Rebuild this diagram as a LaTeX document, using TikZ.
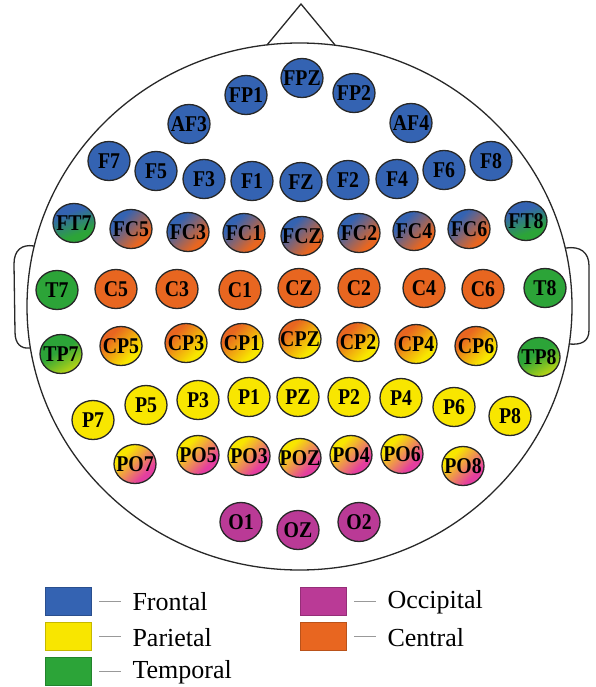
\documentclass[tikz,border=0pt]{standalone}
\usepackage{fontspec}
\setmainfont{Liberation Serif}
\newfontfamily\elfontfam{Liberation Serif}[FakeStretch=0.88]
\usetikzlibrary{shapes.geometric}
\definecolor{cBlue}{RGB}{52,99,178}
\definecolor{cOrange}{RGB}{232,102,32}
\definecolor{cYellow}{RGB}{248,230,0}
\definecolor{cGreen}{RGB}{44,164,56}
\definecolor{cYG}{RGB}{190,215,20}
\definecolor{cMag}{RGB}{186,58,150}
\definecolor{cPink}{RGB}{228,62,160}
\definecolor{cLine}{RGB}{40,40,40}
\pgfdeclareverticalshading{fcsh}{100bp}{color(0bp)=(cOrange); color(32bp)=(cOrange); color(68bp)=(cBlue); color(100bp)=(cBlue)}
\pgfdeclareverticalshading{ftsh}{100bp}{color(0bp)=(cGreen); color(35bp)=(cGreen); color(65bp)=(cBlue); color(100bp)=(cBlue)}
\pgfdeclareverticalshading{cpsh}{100bp}{color(0bp)=(cYellow); color(32bp)=(cYellow); color(68bp)=(cOrange); color(100bp)=(cOrange)}
\pgfdeclareverticalshading{tpsh}{100bp}{color(0bp)=(cYG); color(25bp)=(cYG); color(55bp)=(cGreen); color(100bp)=(cGreen)}
\pgfdeclareverticalshading{posh}{100bp}{color(0bp)=(cPink); color(32bp)=(cPink); color(68bp)=(cYellow); color(100bp)=(cYellow)}
\newcommand\elab[1]{\makebox[0pt]{\raisebox{-0.34em}[0pt][0pt]{#1}}}
\tikzset{
 elec/.style={ellipse, draw=cLine, line width=1.3pt, minimum width=42pt, minimum height=39pt, inner sep=0pt,
   font={\elfontfam\bfseries\fontsize{22.5}{22.5}\selectfont}},
 fr/.style={elec, fill=cBlue},
 ce/.style={elec, fill=cOrange},
 pa/.style={elec, fill=cYellow},
 te/.style={elec, fill=cGreen},
 oc/.style={elec, fill=cMag},
 fcx/.style={elec, shade, shading=fcsh, shading angle=45},
 ftx/.style={elec, shade, shading=ftsh, shading angle=20},
 cpx/.style={elec, shade, shading=cpsh, shading angle=45},
 tpx/.style={elec, shade, shading=tpsh, shading angle=30},
 pox/.style={elec, shade, shading=posh, shading angle=45},
 headline/.style={draw=cLine, line width=1.3pt},
 legbox/.style={minimum width=46pt, minimum height=28pt, inner sep=0pt, draw=#1!80!black, line width=0.6pt, fill=#1},
 legdash/.style={draw=black!40, line width=1pt},
 legtext/.style={anchor=west, inner sep=0pt, font=\fontsize{26}{26}\selectfont},
}
\begin{document}
\begin{tikzpicture}[x=1pt,y=-1pt]
\useasboundingbox (0,0) rectangle (595,687);
% head
\draw[headline] (299.5,306.5) ellipse [x radius=272.5, y radius=263.5];
\draw[headline, line join=miter] (267,45) -- (301,4) -- (335,45);
\draw[headline] (34,246) .. controls (22,244) and (14,250) .. (14,264) -- (15,332) .. controls (15,344) and (21,349) .. (30,348);
\draw[headline] (566,248) .. controls (580,246) and (589,252) .. (589,266) -- (589,330) .. controls (589,342) and (581,345) .. (569,344);
% frontal
\node[fr] (FP1) at (246,95) {\elab{FP1}};
\node[fr] (FPZ) at (302,78) {\elab{FPZ}};
\node[fr] (FP2) at (354,93) {\elab{FP2}};
\node[fr] (AF3) at (189,124) {\elab{AF3}};
\node[fr] (AF4) at (411,123) {\elab{AF4}};
\node[fr] (F7) at (109,161) {\elab{F7}};
\node[fr] (F5) at (156,171) {\elab{F5}};
\node[fr] (F3) at (204,179) {\elab{F3}};
\node[fr] (F1) at (252,181) {\elab{F1}};
\node[fr] (FZ) at (301,182) {\elab{FZ}};
\node[fr] (F2) at (348,180) {\elab{F2}};
\node[fr] (F4) at (397,179) {\elab{F4}};
\node[fr] (F6) at (444,170) {\elab{F6}};
\node[fr] (F8) at (491,161) {\elab{F8}};
% fronto-central
\node[ftx] (FT7) at (74,223) {\elab{FT7}};
\node[fcx] (FC5) at (131,229) {\elab{FC5}};
\node[fcx] (FC3) at (188,232) {\elab{FC3}};
\node[fcx] (FC1) at (244,233) {\elab{FC1}};
\node[fcx] (FCZ) at (302,236) {\elab{FCZ}};
\node[fcx] (FC2) at (359,233) {\elab{FC2}};
\node[fcx] (FC4) at (414,231) {\elab{FC4}};
\node[fcx] (FC6) at (469,229) {\elab{FC6}};
\node[ftx] (FT8) at (526,221) {\elab{FT8}};
% central
\node[te] (T7) at (57,290) {\elab{T7}};
\node[ce] (C5) at (116,289) {\elab{C5}};
\node[ce] (C3) at (177,289) {\elab{C3}};
\node[ce] (C1) at (240,290) {\elab{C1}};
\node[ce] (CZ) at (299,288) {\elab{CZ}};
\node[ce] (C2) at (359,288) {\elab{C2}};
\node[ce] (C4) at (424,288) {\elab{C4}};
\node[ce] (C6) at (483,289) {\elab{C6}};
\node[te] (T8) at (545,288) {\elab{T8}};
% centro-parietal
\node[tpx] (TP7) at (61,354) {\elab{TP7}};
\node[cpx] (CP5) at (121,346) {\elab{CP5}};
\node[cpx] (CP3) at (186,343) {\elab{CP3}};
\node[cpx] (CP1) at (242,343) {\elab{CP1}};
\node[cpx] (CPZ) at (300,339) {\elab{CPZ}};
\node[cpx] (CP2) at (358,342) {\elab{CP2}};
\node[cpx] (CP4) at (416,344) {\elab{CP4}};
\node[cpx] (CP6) at (476,346) {\elab{CP6}};
\node[tpx] (TP8) at (539,357) {\elab{TP8}};
% parietal
\node[pa] (P7) at (93,420) {\elab{P7}};
\node[pa] (P5) at (146,405) {\elab{P5}};
\node[pa] (P3) at (198,400) {\elab{P3}};
\node[pa] (P1) at (249,397) {\elab{P1}};
\node[pa] (PZ) at (298,397) {\elab{PZ}};
\node[pa] (P2) at (349,397) {\elab{P2}};
\node[pa] (P4) at (401,398) {\elab{P4}};
\node[pa] (P6) at (454,407) {\elab{P6}};
\node[pa] (P8) at (510,416) {\elab{P8}};
% parieto-occipital
\node[pox] (PO7) at (135,464) {\elab{PO7}};
\node[pox] (PO5) at (198,455) {\elab{PO5}};
\node[pox] (PO3) at (249,456) {\elab{PO3}};
\node[pox] (POZ) at (300,458) {\elab{POZ}};
\node[pox] (PO4) at (351,455) {\elab{PO4}};
\node[pox] (PO6) at (402,454) {\elab{PO6}};
\node[pox] (PO8) at (463,466) {\elab{PO8}};
% occipital
\node[oc] (O1) at (241,522) {\elab{O1}};
\node[oc] (OZ) at (298,530) {\elab{OZ}};
\node[oc] (O2) at (359,522) {\elab{O2}};
% legend
\node[legbox=cBlue] (LB1) at (68,601) {};
\node[legbox=cYellow] (LB2) at (68,636.5) {};
\node[legbox=cGreen] (LB3) at (68,671) {};
\node[legbox=cMag] (LB4) at (323,601) {};
\node[legbox=cOrange] (LB5) at (323,636.5) {};
\foreach \b/\t in {LB1/Frontal,LB2/Parietal,LB3/Temporal,LB4/Occipital,LB5/Central}{
  \coordinate (\b d1) at ([xshift=8pt]\b.east);
  \coordinate (\b d2) at ([xshift=30pt]\b.east);
  \draw[legdash] (\b d1) -- (\b d2);
  \node[legtext] (\b t) at ([xshift=41pt,yshift=-1pt]\b.east) {\t};
}
\end{tikzpicture}
\end{document}
